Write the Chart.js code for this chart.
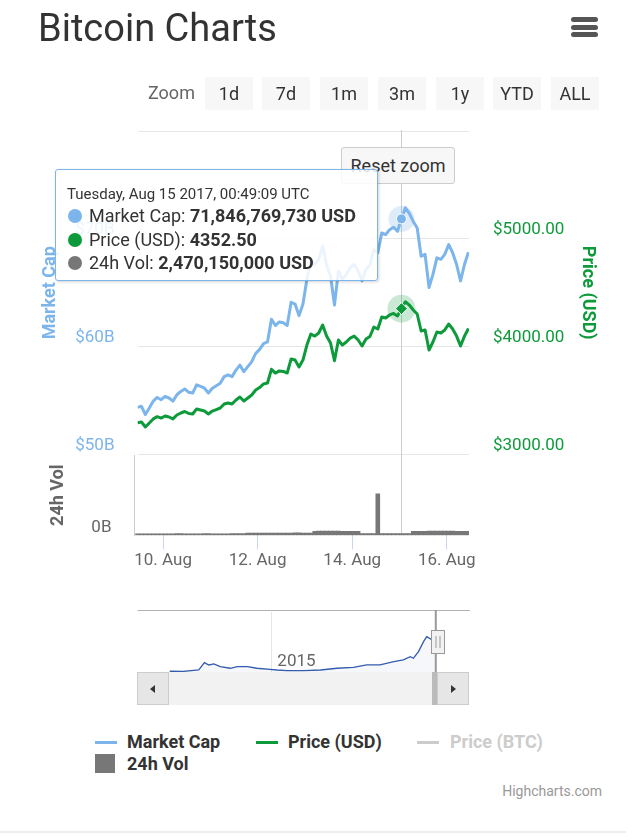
<!DOCTYPE html>
<html lang="en">
<head>
<meta charset="utf-8">
<title>Bitcoin Charts</title>
<script src="https://cdn.jsdelivr.net/npm/chart.js@4.4.1/dist/chart.umd.min.js"></script>
<style>
  html, body { margin: 0; padding: 0; background: #fff; }
  body { position: relative; width: 640px; height: 840px; overflow: hidden; font-family: Roboto, "Noto Sans", Arial, sans-serif; color: #333; }
  .a { position: absolute; white-space: nowrap; }
  canvas { position: absolute; left: 0; }
  h1 { position: absolute; left: 38px; top: 6px; margin: 0; font-size: 38px; font-weight: 400; line-height: 44px; color: #333; }
  .bar { position: absolute; left: 571px; width: 27px; height: 5px; border-radius: 3px; background: #555; }
  .btn { top: 77px; width: 48px; height: 33px; line-height: 33px; text-align: center; background: #f7f7f7; font-size: 18px; color: #333; }
  .reset { left: 341px; top: 147px; width: 112px; height: 35px; line-height: 35px; text-align: center; border: 1px solid #ccc; border-radius: 3px; background: #f7f7f7; font-size: 18px; }
  .tip { left: 55px; top: 169px; width: 321px; height: 110px; border: 1px solid #7cb5ec; border-radius: 3px; background: rgba(255,255,255,0.85); box-shadow: 1px 1px 3px rgba(0,0,0,0.18); }
  .tip .head { left: 11px; top: 15px; font-size: 15px; line-height: 18px; }
  .tip .row { left: 12px; font-size: 18px; line-height: 22px; }
  .dot { display: inline-block; width: 14px; height: 14px; border-radius: 50%; vertical-align: -1px; margin-right: 7px; }
  .sb { top: 672px; height: 33px; }
  .sbtn { width: 30px; height: 31px; background: #e6e6e6; border: 1px solid #ccc; }
  .arrow { position: absolute; top: 12px; width: 0; height: 0; border-top: 4px solid transparent; border-bottom: 4px solid transparent; }
  .leg { font-size: 18px; font-weight: bold; line-height: 22px; color: #333; }
  .sym { height: 3px; width: 22px; }
</style>
</head>
<body>
<canvas id="main" width="640" height="470" style="top:0"></canvas>
<canvas id="vol" width="640" height="140" style="top:450px"></canvas>

<div class="a sb" style="left:137px; width:332px; background:#f2f2f2;"></div>
<div class="a sb" style="left:432px; width:5px; background:#bbb;"></div>
<div class="a sb sbtn" style="left:137px;"><div class="arrow" style="left:12px; border-right:5px solid #333;"></div></div>
<div class="a sb sbtn" style="left:437px;"><div class="arrow" style="left:13px; border-left:5px solid #333;"></div></div>
<canvas id="nav" width="640" height="80" style="top:600px"></canvas>

<h1>Bitcoin Charts</h1>
<div class="bar" style="top:17px"></div>
<div class="bar" style="top:24.5px"></div>
<div class="bar" style="top:32px"></div>

<div class="a" style="left:148px; top:79px; font-size:18px; line-height:28px; color:#666;">Zoom</div>
<div class="a btn" style="left:205px">1d</div>
<div class="a btn" style="left:262px">7d</div>
<div class="a btn" style="left:320px">1m</div>
<div class="a btn" style="left:378px">3m</div>
<div class="a btn" style="left:436px">1y</div>
<div class="a btn" style="left:493px">YTD</div>
<div class="a btn" style="left:551px">ALL</div>

<div class="a reset">Reset zoom</div>

<div class="a tip">
  <div class="a head">Tuesday, Aug 15 2017, 00:49:09 UTC</div>
  <div class="a row" style="top:35px"><span class="dot" style="background:#7cb5ec"></span>Market Cap: <b>71,846,769,730 USD</b></div>
  <div class="a row" style="top:59px"><span class="dot" style="background:#0d9a3a"></span>Price (USD): <b>4352.50</b></div>
  <div class="a row" style="top:82px"><span class="dot" style="background:#777"></span>24h Vol: <b>2,470,150,000 USD</b></div>
</div>

<!-- legend -->
<div class="a sym" style="left:95px; top:741px; background:#7cb5ec;"></div>
<div class="a leg" style="left:127px; top:731px;">Market Cap</div>
<div class="a sym" style="left:256px; top:741px; background:#0d9a3a;"></div>
<div class="a leg" style="left:288px; top:731px;">Price (USD)</div>
<div class="a sym" style="left:417px; top:741px; background:#ccc;"></div>
<div class="a leg" style="left:450px; top:731px; color:#ccc;">Price (BTC)</div>
<div class="a" style="left:95px; top:754px; width:20px; height:19px; background:#777;"></div>
<div class="a leg" style="left:127px; top:753px;">24h Vol</div>

<div class="a" style="left:502px; top:782px; width:100px; text-align:right; font-size:14px; line-height:18px; color:#999;">Highcharts.com</div>
<div class="a" style="left:0; top:831px; width:626px; height:2px; background:#eee;"></div>

<script>
// hours since 9 Aug 2017 00:00 UTC (2 hour steps)
const hours = [11, 13, 15, 17, 19, 21, 23, 25, 27, 29,
  31, 33, 35, 37, 39, 41, 43, 45, 47, 49,
  51, 53, 55, 57, 59, 61, 63, 65, 67, 69,
  71, 73, 75, 77, 79, 81, 83, 85, 87, 89,
  91, 93, 95, 97, 99, 101, 103, 105, 107, 109,
  111, 113, 115, 117, 119, 121, 123, 125, 127, 129,
  131, 133, 135, 137, 139, 141, 143, 145, 147, 149,
  151, 153, 155, 157, 159, 161, 163, 165, 167, 169,
  171, 173, 175, 177, 179];

// Price (USD)
const priceUsd = [3295, 3301, 3255, 3292, 3330, 3351, 3338, 3357, 3348, 3330,
  3366, 3385, 3399, 3380, 3376, 3422, 3413, 3403, 3376, 3403,
  3417, 3431, 3468, 3478, 3468, 3505, 3533, 3496, 3524, 3552,
  3598, 3621, 3654, 3663, 3790, 3755, 3775, 3770, 3756, 3886,
  3876, 3811, 3876, 4015, 4117, 4098, 4127, 4201, 4098, 4034,
  3870, 4062, 4015, 4043, 4080, 4098, 4062, 4006, 4071, 4094,
  4182, 4164, 4275, 4266, 4294, 4308, 4285, 4352.5, 4417, 4386,
  4340, 4303, 4145, 4155, 3969, 4043, 4136, 4127, 4155, 4210,
  4164, 4098, 4006, 4098, 4168];

// Market Cap (billion USD)
const marketCapB = [54.37, 54.47, 53.71, 54.32, 54.95, 55.29, 55.08, 55.39, 55.24, 54.95,
  55.54, 55.85, 56.08, 55.77, 55.70, 56.46, 56.31, 56.15, 55.70, 56.15,
  56.38, 56.61, 57.22, 57.39, 57.22, 57.83, 58.29, 57.68, 58.15, 58.61,
  59.37, 59.75, 60.29, 60.44, 62.54, 61.96, 62.29, 62.21, 61.97, 64.12,
  63.95, 62.88, 63.95, 66.25, 67.93, 67.62, 68.10, 69.32, 67.62, 66.56,
  63.86, 67.02, 66.25, 66.71, 67.32, 67.62, 67.02, 66.10, 67.17, 67.55,
  69.00, 68.71, 70.54, 70.39, 70.85, 71.08, 70.70, 71.85, 72.88, 72.37,
  71.61, 71.00, 68.39, 68.56, 65.49, 66.71, 68.24, 68.10, 68.56, 69.47,
  68.71, 67.62, 66.10, 67.62, 68.77];

// 24h Vol (billion USD)
const volumeB = [2.2, 2.2, 2.3, 2.3, 2.2, 2.1, 2.1, 2.2, 2.3, 2.3,
  2.4, 2.4, 2.3, 2.3, 2.2, 2.2, 2.3, 2.4, 2.4, 2.3,
  2.3, 2.2, 2.2, 2.3, 2.4, 2.4, 2.5, 2.5, 3.3, 3.4,
  3.4, 3.5, 3.5, 3.4, 3.4, 3.3, 3.3, 3.4, 3.5, 3.5,
  3.6, 3.6, 3.5, 3.5, 3.4, 6.1, 6.2, 6.2, 6.3, 6.3,
  6.2, 6.2, 6.1, 6.1, 6.0, 6.0, 6.0, 2.6, 2.5, 2.5,
  2.5, 62, 2.52, 2.51, 2.5, 2.49, 2.48, 2.47015, 2.46, 2.46,
  6.0, 6.0, 6.1, 6.1, 6.2, 6.2, 6.2, 6.3, 6.3, 6.2,
  6.2, 6.1, 6.1, 6.0, 6.0];

// navigator: whole history, market cap (billion USD) by decimal year
const navYears = [2013.39, 2013.6, 2013.85, 2013.94, 2014.01, 2014.09, 2014.19, 2014.35, 2014.46, 2014.62,
  2014.77, 2014.98, 2015.09, 2015.25, 2015.51, 2015.78, 2016.04, 2016.30, 2016.51, 2016.72,
  2016.94, 2017.09, 2017.20, 2017.25, 2017.33, 2017.41, 2017.46, 2017.50, 2017.55, 2017.62];
const navMarketCapB = [1.5, 1.2, 4.1, 19.0, 14.3, 16.3, 10.8, 7.6, 10.8, 10.8,
  7.6, 5.5, 4.1, 2.7, 2.7, 4.1, 7.6, 9.6, 14.3, 14.3,
  21.0, 24.5, 31.2, 28.0, 41.4, 61.8, 72.0, 68.8, 65.0, 71.4];

const mcTicks = [50, 60, 70, 80];
const priceTicks = [3000, 4000, 5000, 6000];
const dayTicks = [24, 72, 120, 168];
const dayLabels = ['10. Aug', '12. Aug', '14. Aug', '16. Aug'];
const navTicks = [2015];
const hoverHour = 145;
const selection = [2017.604, 2017.623];

const BLUE = '#7cb5ec';
const GREEN = '#0d9a3a';
Chart.defaults.font.family = 'Roboto, "Noto Sans", sans-serif';
Chart.defaults.animation = false;
Chart.defaults.events = [];

const pairs = (xs, ys) => xs.map((x, i) => ({ x: x, y: ys[i] }));
const hoverIdx = hours.indexOf(hoverHour);
const fixTicks = list => s => { s.ticks = list.map(v => ({ value: v })); };
// fixed axis width, and no extra label padding above/below the plot
const fixWidth = w => s => { s.width = w; s.paddingTop = 0; s.paddingBottom = 0; };

// vertical crosshair at the hovered time
const crosshair = {
    id: 'crosshair',
    beforeDatasetsDraw(chart) {
        const { ctx, chartArea } = chart;
        const x = Math.round(chart.scales.x.getPixelForValue(hoverHour)) + 0.5;
        ctx.save();
        ctx.strokeStyle = '#cccccc';
        ctx.lineWidth = 1;
        ctx.beginPath();
        ctx.moveTo(x, chartArea.top - 1);
        ctx.lineTo(x, chartArea.bottom);
        ctx.stroke();
        ctx.restore();
    }
};

const hoverPoint = (axis, values, extra) => Object.assign({
    data: [{ x: hours[hoverIdx], y: values[hoverIdx] }],
    yAxisID: axis, showLine: false, pointBorderWidth: 0
}, extra);

new Chart(document.getElementById('main'), {
    type: 'line',
    data: {
        datasets: [
            { label: 'Market Cap', data: pairs(hours, marketCapB), yAxisID: 'mc', borderColor: BLUE, borderWidth: 3, pointRadius: 0, borderJoinStyle: 'round', order: 1 },
            { label: 'Price (USD)', data: pairs(hours, priceUsd), yAxisID: 'usd', borderColor: GREEN, borderWidth: 3, pointRadius: 0, borderJoinStyle: 'round', order: 1 },
            hoverPoint('mc', marketCapB, { pointRadius: 13, pointBackgroundColor: 'rgba(124,181,236,0.25)', order: 0.5 }),
            hoverPoint('mc', marketCapB, { pointRadius: 5, pointBackgroundColor: BLUE, pointBorderColor: '#fff', pointBorderWidth: 1, order: 0 }),
            hoverPoint('usd', priceUsd, { pointRadius: 14, pointBackgroundColor: 'rgba(13,154,58,0.22)', order: 0.5 }),
            hoverPoint('usd', priceUsd, { pointRadius: 6, pointStyle: 'rectRot', pointBackgroundColor: GREEN, pointBorderColor: '#fff', pointBorderWidth: 1, order: 0 })
        ]
    },
    options: {
        responsive: false,
        layout: { padding: { top: 131, bottom: 15.5, left: 40, right: 40 } },
        plugins: { legend: { display: false }, tooltip: { enabled: false } },
        scales: {
            x: { type: 'linear', min: 11, max: 179.3, display: false },
            mc: {
                type: 'linear', position: 'left', min: 50, max: 80,
                afterBuildTicks: fixTicks(mcTicks),
                afterFit: fixWidth(97.5),
                grid: { color: '#e6e6e6', drawTicks: false },
                border: { display: false },
                ticks: { color: BLUE, font: { size: 17 }, padding: 23, labelOffset: -9,
                    callback: v => v === 80 ? '' : '$' + v + 'B' },
                title: { display: true, text: 'Market Cap', color: BLUE, font: { size: 18, weight: 'bold' }, padding: { top: 0, bottom: 0 } }
            },
            usd: {
                type: 'linear', position: 'right', min: 3000, max: 6000,
                afterBuildTicks: fixTicks(priceTicks),
                afterFit: fixWidth(131),
                grid: { display: false, drawTicks: false },
                border: { display: false },
                ticks: { color: GREEN, font: { size: 17 }, padding: 24, labelOffset: -9,
                    callback: v => v === 6000 ? '' : '$' + v.toFixed(2) },
                title: { display: true, text: 'Price (USD)', color: GREEN, font: { size: 18, weight: 'bold' }, padding: { top: 2, bottom: 0 } }
            }
        }
    },
    plugins: [crosshair]
});

new Chart(document.getElementById('vol'), {
    type: 'bar',
    data: {
        datasets: [{ label: '24h Vol', data: pairs(hours, volumeB), backgroundColor: '#777777', borderWidth: 0, barPercentage: 1, categoryPercentage: 1 }]
    },
    options: {
        responsive: false,
        layout: { padding: { top: 5, bottom: 14.7, left: 40, right: 171 } },
        plugins: { legend: { display: false }, tooltip: { enabled: false } },
        scales: {
            x: {
                type: 'linear', min: 9.223, max: 179.3, offset: false,
                afterBuildTicks: fixTicks(dayTicks),
                afterFit: s => { s.height = 40; },
                grid: { drawOnChartArea: false, offset: false, tickLength: 14, color: '#ccd6eb' },
                border: { display: false },
                ticks: { color: '#666', font: { size: 17 }, padding: 1, maxRotation: 0, autoSkip: false,
                    callback: (v, i) => dayLabels[i] }
            },
            y: {
                min: 0, max: 120,
                afterBuildTicks: fixTicks([0]),
                afterFit: fixWidth(94),
                grid: { display: false, drawTicks: false },
                border: { display: true, color: '#cccccc' },
                ticks: { color: '#666', font: { size: 17 }, padding: 22.5, labelOffset: -8, callback: v => v + 'B' },
                title: { display: true, text: '24h Vol', color: '#666', font: { size: 18, weight: 'bold' }, padding: { top: 7.7, bottom: 0 } }
            }
        }
    },
    plugins: [crosshair]
});

// navigator outline, handle and year label
const navChrome = {
    id: 'navChrome',
    afterDraw(chart) {
        const { ctx, chartArea: a } = chart;
        const x = chart.scales.x;
        const s0 = x.getPixelForValue(selection[0]);
        const s1 = x.getPixelForValue(selection[1]);
        ctx.save();
        ctx.strokeStyle = '#b3b3b3';
        ctx.lineWidth = 1;
        ctx.beginPath();
        ctx.moveTo(a.left, a.top - 1.5);
        ctx.lineTo(a.right + 1, a.top - 1.5);
        ctx.stroke();
        ctx.lineWidth = 2;
        ctx.strokeStyle = '#999';
        ctx.beginPath();
        ctx.moveTo(s0, a.top - 2);
        ctx.lineTo(s0, a.bottom);
        ctx.stroke();
        // handle
        ctx.fillStyle = '#f2f2f2';
        ctx.strokeStyle = '#999';
        ctx.lineWidth = 1;
        const hx = Math.round(s1 - 6) + 0.5;
        ctx.fillRect(hx, a.top + 18.5, 13, 23);
        ctx.strokeRect(hx, a.top + 18.5, 13, 23);
        ctx.beginPath();
        ctx.moveTo(hx + 4.5, a.top + 24); ctx.lineTo(hx + 4.5, a.top + 36);
        ctx.moveTo(hx + 8.5, a.top + 24); ctx.lineTo(hx + 8.5, a.top + 36);
        ctx.stroke();
        // year label
        ctx.fillStyle = '#666';
        ctx.font = '17px Roboto, "Noto Sans", sans-serif';
        ctx.textBaseline = 'middle';
        x.ticks.forEach(t => ctx.fillText(String(t.value), x.getPixelForValue(t.value) + 6, a.top + 49.5));
        ctx.restore();
    }
};

new Chart(document.getElementById('nav'), {
    type: 'line',
    data: {
        datasets: [{ label: 'Market Cap', data: pairs(navYears, navMarketCapB), borderColor: '#335cad', borderWidth: 1.3, pointRadius: 0, fill: 'origin', backgroundColor: 'rgba(51,92,173,0.05)' }]
    },
    options: {
        responsive: false,
        layout: { padding: { top: 12, bottom: 8, left: 137.5, right: 171 } },
        plugins: { legend: { display: false }, tooltip: { enabled: false } },
        scales: {
            x: {
                type: 'linear', min: 2012.88, max: 2018.13,
                afterBuildTicks: fixTicks(navTicks),
                afterFit: s => { s.height = 0; },
                grid: { color: '#e6e6e6', drawTicks: false },
                border: { display: false },
                ticks: { display: false }
            },
            y: { display: false, min: 0, max: 122 }
        }
    },
    plugins: [navChrome]
});
</script>
</body>
</html>
